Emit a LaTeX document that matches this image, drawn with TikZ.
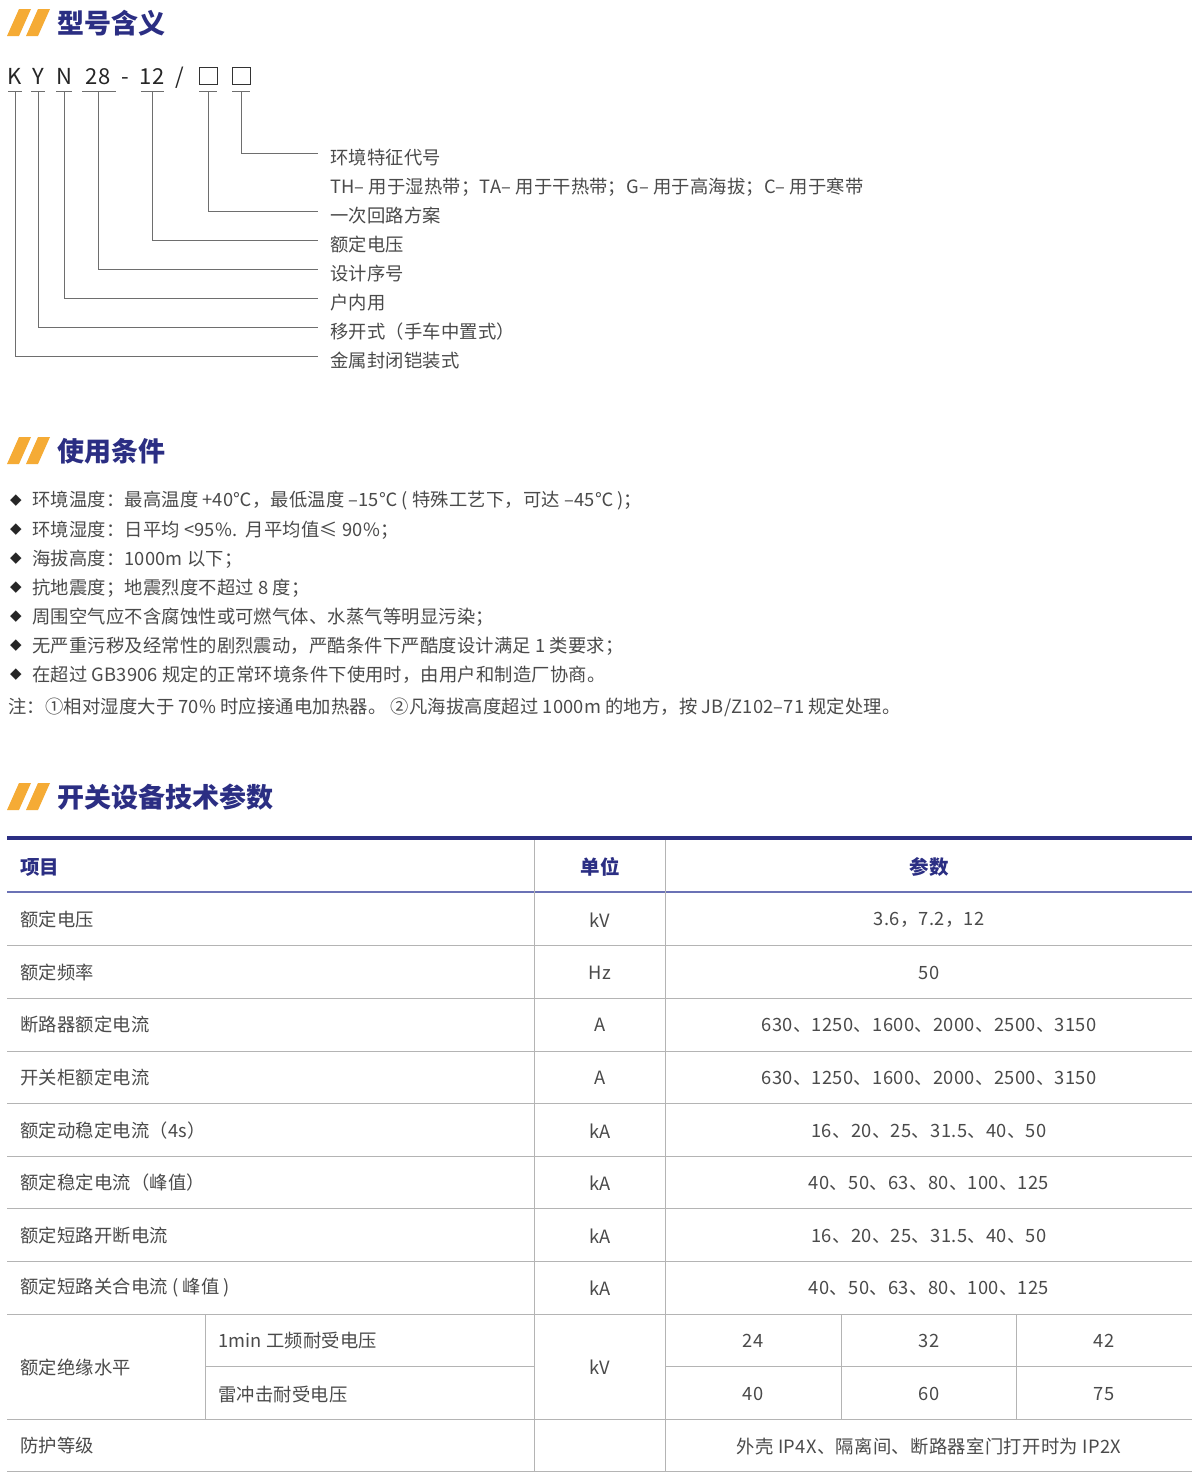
\documentclass[tikz,border=0pt]{standalone}
\usepackage{fontspec}
\setmainfont{Noto Sans CJK SC}
\newfontfamily\sym{DejaVu Sans}
\definecolor{navy}{HTML}{2B2E83}
\definecolor{org}{HTML}{F5AB35}
\definecolor{txt}{HTML}{4A4A4A}
\definecolor{ln}{HTML}{B4B4B4}
\definecolor{hl}{HTML}{6B72B5}
\tikzset{
 tx/.style={anchor=west,inner sep=0,text=txt,font=\fontsize{18.3}{18}\selectfont\addfontfeature{LetterSpace=1}},
 ct/.style={anchor=center,inner sep=0,text=txt,font=\fontsize{18.3}{18}\selectfont\addfontfeature{LetterSpace=2}},
 ttl/.style={anchor=west,inner sep=0,text=navy,font=\fontsize{27}{27}\selectfont\bfseries},
 hd/.style={inner sep=0,text=navy,font=\fontsize{19.5}{19}\selectfont\bfseries},
 br/.style={draw=txt!80,line width=0.9pt},
 rl/.style={draw=ln,line width=1pt},
}
\newcommand{\secth}[2]{%
 \fill[org] (7,#1+14)--(19,#1+14)--(31,#1-13)--(19,#1-13)--cycle;
 \fill[org] (26,#1+14)--(38,#1+14)--(50,#1-13)--(38,#1-13)--cycle;
 \node[ttl] (t#1) at (57,#1+1) {#2};}
\begin{document}
\begin{tikzpicture}[x=1pt,y=-1pt]
\useasboundingbox[fill=white] (0,0) rectangle (1200,1483);
\secth{22}{型号含义}
\secth{450}{使用条件}
\secth{796}{开关设备技术参数}
% model code
\foreach \c/\x in {K/15,Y/38,N/64,28/98,-/125,12/152,{/}/180}
  \node[anchor=base,inner sep=0,font=\fontsize{22}{22}\selectfont,text=black!85] at (\x,84) {\c};
\foreach \x in {208,241} \draw[black!80,line width=0.9pt] (\x-9,67) rectangle (\x+9,84);
\foreach \a/\b in {8/22,31/45,56/72,82/116,141/164,199/217,232/250}
  \draw[br] (\a,91)--(\b,91);
\foreach \x/\y/\n in {241/157/a,208/215/b,152/244/c,98/273/d,64/302/e,38/331/f,15/360/g}{
  \coordinate (s\n) at (\x,91); \coordinate (e\n) at (318,\y-4);
  \draw[br] (s\n) |- (e\n);}
\foreach \y/\t in {157/环境特征代号,186/TH– 用于湿热带；TA– 用于干热带；G– 用于高海拔；C– 用于寒带,215/一次回路方案,244/额定电压,273/设计序号,302/户内用,331/移开式（手车中置式）,360/金属封闭铠装式}
  \node[tx] at (330,\y+1) {\t};
% conditions
\foreach \y/\t in {500/{环境温度：最高温度 +40℃，最低温度 –15℃ ( 特殊工艺下，可达 –45℃ )；},
 529/{环境湿度：日平均 <95\%.\ \ 月平均值≤ 90\%；},
 558/{海拔高度：1000m 以下；},
 587/{抗地震度；地震烈度不超过 8 度；},
 616/{周围空气应不含腐蚀性或可燃气体、水蒸气等明显污染；},
 645/{无严重污秽及经常性的剧烈震动，严酷条件下严酷度设计满足 1 类要求；},
 674/{在超过 GB3906 规定的正常环境条件下使用时，由用户和制造厂协商。}}{
  \node[anchor=center,inner sep=0,text=black!85,font=\sym\fontsize{15}{15}\selectfont] at (16,\y+1) {◆};
  \node[tx] at (32,\y+1) {\t};}
\node[tx] at (8,707) {注：①相对湿度大于 70\% 时应接通电加热器。 ②凡海拔高度超过 1000m 的地方，按 JB/Z102–71 规定处理。};
% table
\draw[navy,line width=4pt] (7,838)--(1192,838);
\draw[hl,line width=1.5pt] (7,892)--(1192,892);
\foreach \y in {945,998,1051,1103,1156,1208,1261,1314,1419,1471} \draw[rl] (7,\y)--(1192,\y);
\draw[rl] (205,1366)--(534,1366); \draw[rl] (665,1366)--(1192,1366);
\draw[rl] (534,840)--(534,1471); \draw[rl] (665,840)--(665,1471);
\draw[rl] (205,1314)--(205,1419);
\draw[rl] (841,1314)--(841,1419); \draw[rl] (1016,1314)--(1016,1419);
\node[hd,anchor=west] at (20,867) {项目};
\node[hd] at (600,867) {单位};
\node[hd] at (929,867) {参数};
\foreach \y/\a/\b/\c in {919/额定电压/kV/{3.6，7.2，12},972/额定频率/Hz/50,
 1024/断路器额定电流/A/{630、1250、1600、2000、2500、3150},
 1077/开关柜额定电流/A/{630、1250、1600、2000、2500、3150},
 1130/额定动稳定电流（4s）/kA/{16、20、25、31.5、40、50},
 1182/额定稳定电流（峰值）/kA/{40、50、63、80、100、125},
 1235/额定短路开断电流/kA/{16、20、25、31.5、40、50},
 1287/额定短路关合电流 ( 峰值 )/kA/{40、50、63、80、100、125},
 1445/防护等级//{外壳 IP4X、隔离间、断路器室门打开时为 IP2X}}{
  \node[tx] at (20,\y+1) {\a};
  \node[ct] at (600,\y+1) {\b};
  \node[ct] at (929,\y+1) {\c};}
\node[tx] at (20,1367) {额定绝缘水平};
\node[tx] at (218,1341) {1min 工频耐受电压};
\node[tx] at (218,1394) {雷冲击耐受电压};
\node[ct] at (600,1367) {kV};
\foreach \x/\p/\q in {753/24/40,929/32/60,1104/42/75}{
  \node[ct] at (\x,1341) {\p}; \node[ct] at (\x,1394) {\q};}
\end{tikzpicture}
\end{document}
